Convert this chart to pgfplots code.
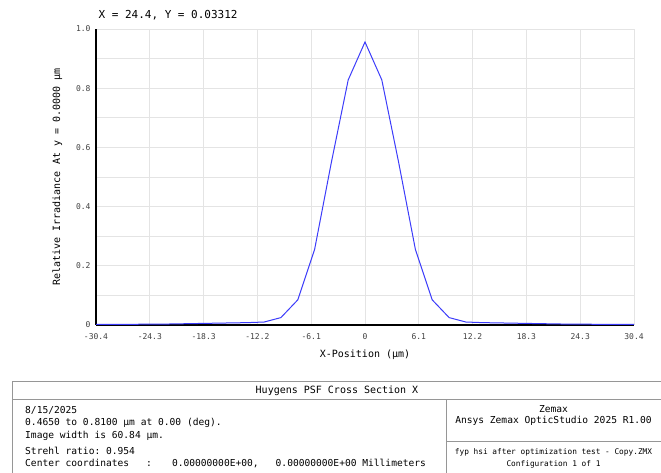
\documentclass[border=0pt]{standalone}
\usepackage{fontspec}
\setmainfont{DejaVu Sans}
\setmonofont{DejaVu Sans Mono}
\usepackage{pgfplots}
\pgfplotsset{compat=1.18}
\definecolor{psfblue}{RGB}{60,60,250}
\definecolor{gridgray}{RGB}{228,228,228}
\definecolor{boxgray}{RGB}{150,150,150}

\pgfplotstableread{
x       y
-30.42  0.002
-28.52  0.002
-26.62  0.002
-24.72  0.003
-22.81  0.003
-20.91  0.004
-19.01  0.005
-17.11  0.006
-15.21  0.007
-13.31  0.008
-11.41  0.010
-9.51   0.025
-7.60   0.085
-5.70   0.255
-3.80   0.550
-1.90   0.828
0.00    0.956
1.90    0.828
3.80    0.550
5.70    0.255
7.60    0.085
9.51    0.025
11.41   0.010
13.31   0.008
15.21   0.007
17.11   0.006
19.01   0.005
20.91   0.004
22.81   0.003
24.72   0.003
26.62   0.002
28.52   0.002
30.42   0.002
}\psfdata

\begin{document}
\begin{tikzpicture}
\useasboundingbox (0pt,0pt) rectangle (661pt,473pt);

\begin{axis}[at={(96pt,148pt)},anchor=south west,
  scale only axis,width=538pt,height=296pt,
  xmin=-30.42,xmax=30.42,ymin=0,ymax=1,
  axis x line=bottom,axis y line=left,
  axis line style={black,line width=1.4pt,-},
  xtick={-30.42,-24.336,-18.252,-12.168,-6.084,0,6.084,12.168,18.252,24.336,30.42},
  xticklabels={-30.4,-24.3,-18.3,-12.2,-6.1,0,6.1,12.2,18.3,24.3,30.4},
  ytick={0,0.2,0.4,0.6,0.8,1.0},
  yticklabels={0,0.2,0.4,0.6,0.8,1.0},
  minor ytick={0.1,0.3,0.5,0.7,0.9},
  major tick length=0pt,minor tick length=0pt,
  grid=both,
  major grid style={gridgray,line width=0.9pt},
  minor grid style={gridgray,line width=0.9pt},
  ticklabel style={font=\ttfamily\fontsize{8}{9}\selectfont,text=black!75},
  xticklabel style={yshift=-5pt},
  yticklabel style={xshift=-2pt},
  xlabel={X-Position (µm)},
  ylabel={Relative Irradiance At y = 0.0000 µm},
  label style={font=\ttfamily\fontsize{10}{12}\selectfont},
  xlabel style={yshift=-3pt},
  ylabel style={yshift=7pt},
  clip=false]
\addplot[psfblue,line width=1pt,mark=none] table[x=x,y=y] {\psfdata};
\end{axis}

\node[anchor=west,font=\ttfamily\fontsize{11}{13}\selectfont] at (95pt,458pt) {X = 24.4, Y = 0.03312};

% info box
\draw[boxgray,line width=0.9pt] (12pt,0pt) -- (12pt,92pt) -- (661pt,92pt);
\draw[boxgray,line width=0.9pt] (12pt,74pt) -- (661pt,74pt);
\draw[boxgray,line width=0.9pt] (446pt,0pt) -- (446pt,74pt);
\draw[boxgray,line width=0.9pt] (446pt,32pt) -- (661pt,32pt);
\node[font=\ttfamily\fontsize{10}{12}\selectfont] at (337pt,82.5pt) {Huygens PSF Cross Section X};
\begin{scope}[every node/.style={anchor=west,font=\ttfamily\fontsize{9.6}{11}\selectfont,inner sep=0pt}]
\node at (25pt,63pt) {8/15/2025};
\node at (25pt,50pt) {0.4650 to 0.8100 µm at 0.00 (deg).};
\node at (25pt,37pt) {Image width is 60.84 µm.};
\node at (25pt,22pt) {Strehl ratio: 0.954};
\node at (25pt,9pt) {Center coordinates\hspace{17pt}:\hspace{20pt}0.00000000E+00,\hspace{17pt}0.00000000E+00 Millimeters};
\end{scope}
\node[font=\ttfamily\fontsize{9.6}{11}\selectfont] at (553.5pt,64pt) {Zemax};
\node[font=\ttfamily\fontsize{9.6}{11}\selectfont] at (553.5pt,52pt) {Ansys Zemax OpticStudio 2025 R1.00};
\node[font=\ttfamily\fontsize{7.8}{9}\selectfont] at (553.5pt,21pt) {fyp hsi after optimization test - Copy.ZMX};
\node[font=\ttfamily\fontsize{7.8}{9}\selectfont] at (553.5pt,9pt) {Configuration 1 of 1};
\end{tikzpicture}
\end{document}
